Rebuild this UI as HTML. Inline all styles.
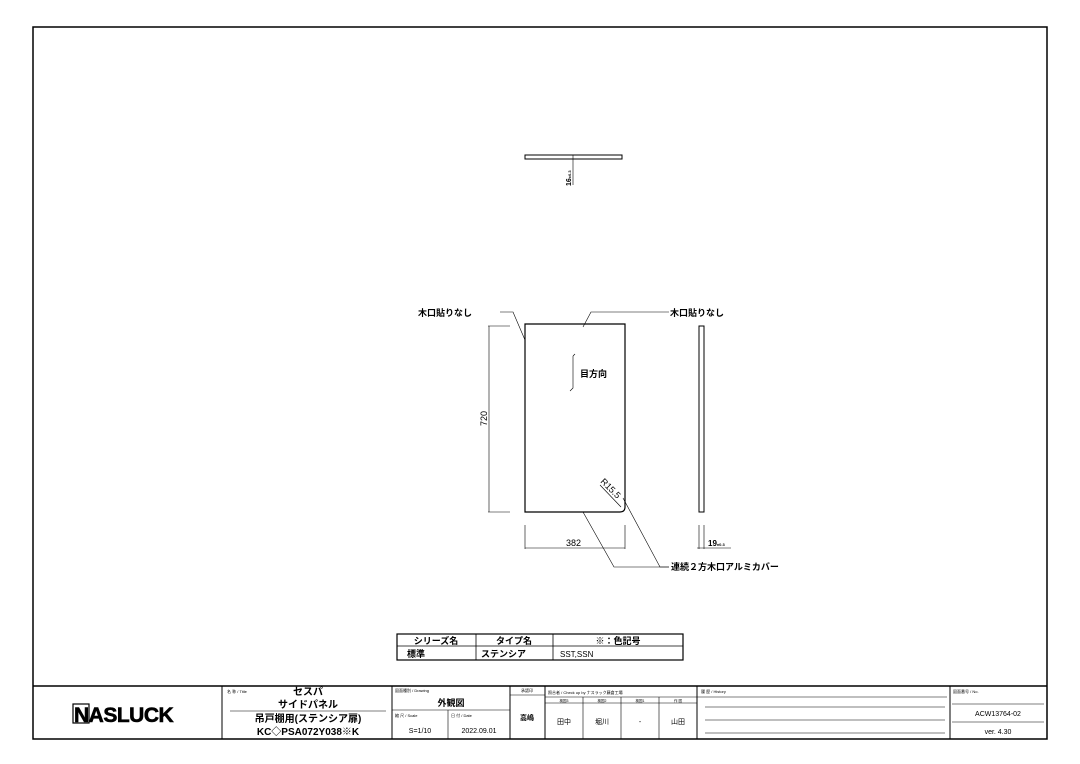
<!DOCTYPE html>
<html><head><meta charset="utf-8"><style>
body{margin:0;background:#fff}
svg{display:block}
text{font-family:"Liberation Sans","Noto Sans CJK JP",sans-serif;fill:#000}
</style></head><body>
<svg width="1080" height="764" viewBox="0 0 1080 764" xmlns="http://www.w3.org/2000/svg">
<rect x="33" y="27" width="1014" height="712" fill="none" stroke="#000" stroke-width="1.5"/>
<!-- top view -->
<rect x="525" y="155" width="97" height="4" fill="none" stroke="#000" stroke-width="1"/>
<line x1="573" y1="155" x2="573" y2="185" stroke="#000" stroke-width="0.6"/>
<text x="0" y="0" font-size="7" font-weight="bold" transform="translate(571,186) rotate(-90)">16<tspan font-size="4">±0.3</tspan></text>
<!-- main panel -->
<path d="M525 324 H625 V507 Q625 512 620 512 H525 Z" fill="none" stroke="#000" stroke-width="1.2"/>
<g stroke="#000" stroke-width="0.6" fill="none">
<line x1="488" y1="326" x2="510" y2="326"/><line x1="488" y1="512" x2="510" y2="512"/>
<line x1="489" y1="326" x2="489" y2="512"/>
<line x1="525" y1="525" x2="525" y2="549"/><line x1="625" y1="525" x2="625" y2="549"/>
<line x1="525" y1="548" x2="625" y2="548"/>
<polyline points="500,312 513,312 525,340"/>
<polyline points="669,312 591,312 583,327"/>
<polyline points="573,356 573,388 570,391"/><line x1="573" y1="356" x2="575" y2="354"/>
<line x1="600" y1="485" x2="621" y2="507"/>
<polyline points="583,512 614,567 669,567"/>
<polyline points="623,498 660,567 669,567"/>
<line x1="699" y1="525" x2="699" y2="549"/><line x1="704" y1="525" x2="704" y2="549"/>
<line x1="697" y1="548" x2="731" y2="548"/>
</g>
<rect x="699" y="326" width="5" height="186" fill="none" stroke="#000" stroke-width="1"/>
<text x="418" y="316" font-size="9" font-weight="bold">木口貼りなし</text>
<text x="670" y="316" font-size="9" font-weight="bold">木口貼りなし</text>
<text x="580" y="377" font-size="9" font-weight="bold">目方向</text>
<text x="0" y="0" font-size="9" transform="translate(487,426) rotate(-90)">720</text>
<text x="566" y="546" font-size="9">382</text>
<text x="0" y="0" font-size="9" transform="translate(600,482) rotate(45)">R15.5</text>
<text x="708" y="546" font-size="8" font-weight="bold">19<tspan font-size="4">±0.3</tspan></text>
<text x="671" y="570" font-size="9" font-weight="bold">連続２方木口アルミカバー</text>
<!-- table -->
<g stroke="#000" fill="none">
<rect x="397" y="634" width="286" height="26" stroke-width="1.2"/>
<line x1="397" y1="646" x2="683" y2="646" stroke-width="0.8"/>
<line x1="476" y1="634" x2="476" y2="660" stroke-width="0.8"/>
<line x1="553" y1="634" x2="553" y2="660" stroke-width="0.8"/>
</g>
<text x="436" y="644" font-size="9" font-weight="bold" text-anchor="middle">シリーズ名</text>
<text x="514" y="644" font-size="9" font-weight="bold" text-anchor="middle">タイプ名</text>
<text x="618" y="644" font-size="9" font-weight="bold" text-anchor="middle">※：色記号</text>
<text x="407" y="657" font-size="9" font-weight="bold">標準</text>
<text x="481" y="657" font-size="9" font-weight="bold">ステンシア</text>
<text x="560" y="657" font-size="8">SST,SSN</text>
<!-- title block -->
<g stroke="#000" fill="none">
<line x1="33" y1="686" x2="1047" y2="686" stroke-width="1.5"/>
<g stroke-width="1">
<line x1="222" y1="686" x2="222" y2="739"/>
<line x1="392" y1="686" x2="392" y2="739"/>
<line x1="510" y1="686" x2="510" y2="739"/>
<line x1="545" y1="686" x2="545" y2="739"/>
<line x1="697" y1="686" x2="697" y2="739"/>
<line x1="950" y1="686" x2="950" y2="739"/>
</g>
<g stroke-width="0.6">
<line x1="230" y1="711" x2="386" y2="711"/>
<line x1="392" y1="710" x2="510" y2="710"/>
<line x1="448" y1="710" x2="448" y2="739"/>
<line x1="510" y1="695" x2="545" y2="695"/>
<line x1="545" y1="697" x2="697" y2="697"/>
<line x1="545" y1="703" x2="697" y2="703"/>
<line x1="583" y1="697" x2="583" y2="739"/>
<line x1="621" y1="697" x2="621" y2="739"/>
<line x1="659" y1="697" x2="659" y2="739"/>
<line x1="697" y1="697" x2="947" y2="697"/>
<line x1="705" y1="707" x2="945" y2="707"/>
<line x1="705" y1="720" x2="945" y2="720"/>
<line x1="705" y1="733" x2="945" y2="733"/>
<line x1="952" y1="704" x2="1044" y2="704"/>
<line x1="952" y1="722" x2="1044" y2="722"/>
</g>
</g>
<text x="74" y="722" font-size="21" font-weight="900" letter-spacing="-0.5" stroke="#000" stroke-width="0.6">N<tspan>ASLUCK</tspan></text>
<rect x="73" y="704" width="16" height="19" fill="none" stroke="#000" stroke-width="1.2"/>
<text x="227" y="693" font-size="4">名 称 / Title</text>
<text x="308" y="695" font-size="10" font-weight="bold" text-anchor="middle">セスパ</text>
<text x="308" y="708" font-size="10" font-weight="bold" text-anchor="middle">サイドパネル</text>
<text x="308" y="722" font-size="10" font-weight="bold" text-anchor="middle">吊戸棚用(ステンシア扉)</text>
<text x="308" y="735" font-size="10" font-weight="bold" text-anchor="middle">KC◇PSA072Y038※K</text>
<text x="395" y="692" font-size="4">図面種別 / Drawing</text>
<text x="451" y="706" font-size="9" font-weight="bold" text-anchor="middle">外観図</text>
<text x="395" y="717" font-size="4">縮 尺 / Scale</text>
<text x="451" y="717" font-size="4">日 付 / Date</text>
<text x="420" y="733" font-size="7" text-anchor="middle">S=1/10</text>
<text x="479" y="733" font-size="7" text-anchor="middle">2022.09.01</text>
<text x="527" y="692" font-size="4" text-anchor="middle">承認印</text>
<text x="527" y="720" font-size="7" font-weight="bold" text-anchor="middle">高嶋</text>
<text x="548" y="694" font-size="4">照合者 / Check up by ナスラック藤倉工場</text>
<text x="564" y="702" font-size="3.5" text-anchor="middle">検図3</text>
<text x="602" y="702" font-size="3.5" text-anchor="middle">検図2</text>
<text x="640" y="702" font-size="3.5" text-anchor="middle">検図1</text>
<text x="678" y="702" font-size="3.5" text-anchor="middle">作 図</text>
<text x="564" y="724" font-size="7" text-anchor="middle">田中</text>
<text x="602" y="724" font-size="7" text-anchor="middle">堀川</text>
<text x="640" y="724" font-size="7" text-anchor="middle">-</text>
<text x="678" y="724" font-size="7" text-anchor="middle">山田</text>
<text x="701" y="693" font-size="4">履 歴 / History</text>
<text x="953" y="693" font-size="4">図面番号 / No.</text>
<text x="998" y="716" font-size="7" text-anchor="middle">ACW13764-02</text>
<text x="998" y="734" font-size="7" text-anchor="middle">ver. 4.30</text>
</svg>
</body></html>
